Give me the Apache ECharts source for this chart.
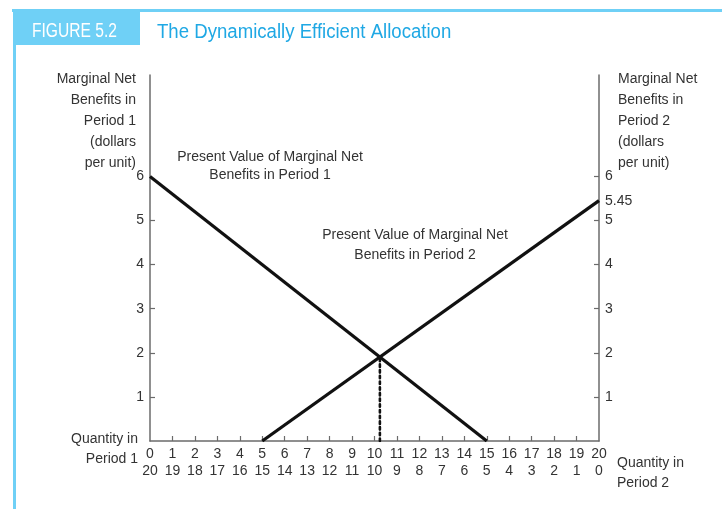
<!DOCTYPE html>
<html>
<head>
<meta charset="utf-8">
<script src="https://cdn.jsdelivr.net/npm/echarts@6/dist/echarts.min.js"></script>
<style>
  html, body { margin: 0; padding: 0; background: #fff; }
  #chart { width: 722px; height: 509px; }
</style>
</head>
<body>
<div id="chart"></div>
<script>
// data
const quantity = [0, 1, 2, 3, 4, 5, 6, 7, 8, 9, 10, 11, 12, 13, 14, 15, 16, 17, 18, 19, 20];
const pvPeriod1 = [[0, 6], [15, 0]];        // PV of marginal net benefits, period 1
const pvPeriod2 = [[5, 0], [20, 5.45]];     // PV of marginal net benefits, period 2
const equilibrium = [[10.24, 0], [10.24, 1.9]];
const leftTicks = [1, 2, 3, 4, 5, 6];
const rightTicks = [1, 2, 3, 4, 5, 6];
const rightLabels = [1, 2, 3, 4, 5, 5.45, 6];

const font = '"Liberation Sans", Arial, Helvetica, sans-serif';
const txt = '#333';
const axisCol = '#6b6b6b';
const blue = '#6fd0f6';

const chart = echarts.init(document.getElementById('chart'));

const axisBase = {
  type: 'value',
  min: 0,
  max: 8.3,
  axisLine: { show: true, lineStyle: { color: axisCol, width: 1.5 } },
  splitLine: { show: false },
  axisTick: { show: true, inside: true, length: 5, lineStyle: { color: axisCol, width: 1.2 } },
  axisLabel: { color: txt, fontSize: 14, fontFamily: font, margin: 6 }
};

const option = {
  animation: false,
  backgroundColor: '#fff',
  grid: { left: 150, right: 123, top: 75, bottom: 68 },
  xAxis: {
    type: 'value',
    min: 0,
    max: 20,
    interval: 1,
    axisLine: { lineStyle: { color: axisCol, width: 1.5 } },
    splitLine: { show: false },
    axisTick: { inside: true, length: 5, lineStyle: { color: axisCol, width: 1.2 },
      customValues: quantity.slice(1, 20) },
    axisLabel: {
      color: txt, fontSize: 14, fontFamily: font, margin: 5, lineHeight: 17,
      customValues: quantity,
      formatter: v => v + '\n' + (20 - v)
    }
  },
  yAxis: [
    Object.assign({}, axisBase, {
      position: 'left',
      axisTick: Object.assign({}, axisBase.axisTick, { customValues: leftTicks.slice(0, 5) }),
      axisLabel: Object.assign({}, axisBase.axisLabel, { customValues: leftTicks })
    }),
    Object.assign({}, axisBase, {
      position: 'right',
      axisTick: Object.assign({}, axisBase.axisTick, { customValues: rightTicks }),
      axisLabel: Object.assign({}, axisBase.axisLabel, { customValues: rightLabels, margin: 6 })
    })
  ],
  series: [
    {
      type: 'line', data: pvPeriod1, symbol: 'none',
      lineStyle: { color: '#111', width: 3.2 }
    },
    {
      type: 'line', data: pvPeriod2, symbol: 'none',
      lineStyle: { color: '#111', width: 3.2 }
    },
    {
      type: 'line', data: equilibrium, symbol: 'none', z: 1,
      lineStyle: { color: '#111', width: 2.6, type: [2.5, 3.2], cap: 'round' }
    }
  ],
  graphic: [
    // figure frame
    { type: 'rect', shape: { x: 12, y: 9, width: 710, height: 3 }, style: { fill: blue } },
    { type: 'rect', shape: { x: 13, y: 9, width: 3, height: 500 }, style: { fill: blue } },
    { type: 'rect', shape: { x: 13, y: 11, width: 127, height: 34 }, style: { fill: blue } },
    { type: 'text', x: 32, y: 31, scaleX: 0.78, style: { text: 'FIGURE 5.2', fill: '#fff', font: '20px ' + font, verticalAlign: 'middle' } },
    { type: 'text', x: 157, y: 32, scaleX: 0.93, style: { text: 'The Dynamically Efficient Allocation', fill: '#1fa8e4', font: '20px ' + font, verticalAlign: 'middle' } },
    // axis titles
    { type: 'text', x: 136, y: 69, style: {
      text: 'Marginal Net\nBenefits in\nPeriod 1\n(dollars\nper unit)', align: 'right',
      fill: txt, font: '14px ' + font, lineHeight: 21 } },
    { type: 'text', x: 618, y: 69, style: {
      text: 'Marginal Net\nBenefits in\nPeriod 2\n(dollars\nper unit)', align: 'left',
      fill: txt, font: '14px ' + font, lineHeight: 21 } },
    { type: 'text', x: 138, y: 429, style: {
      text: 'Quantity in\nPeriod 1', align: 'right', fill: txt, font: '14px ' + font, lineHeight: 20 } },
    { type: 'text', x: 617, y: 453, style: {
      text: 'Quantity in\nPeriod 2', align: 'left', fill: txt, font: '14px ' + font, lineHeight: 20 } },
    // curve labels
    { type: 'text', x: 270, y: 148, style: {
      text: 'Present Value of Marginal Net\nBenefits in Period 1', align: 'center',
      fill: txt, font: '14px ' + font, lineHeight: 18 } },
    { type: 'text', x: 415, y: 225, style: {
      text: 'Present Value of Marginal Net\nBenefits in Period 2', align: 'center',
      fill: txt, font: '14px ' + font, lineHeight: 20 } }
  ]
};

chart.setOption(option);
</script>
</body>
</html>
